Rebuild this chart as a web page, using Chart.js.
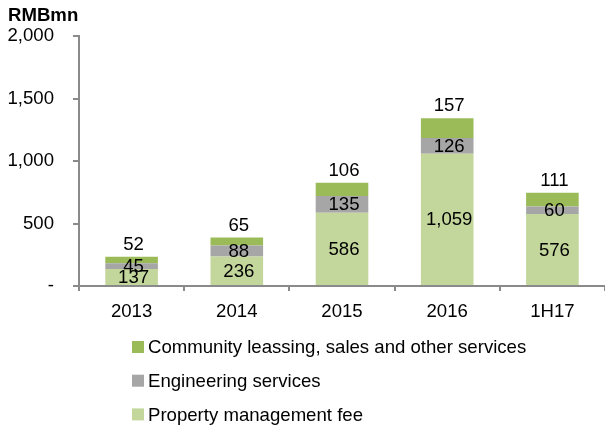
<!DOCTYPE html>
<html>
<head>
<meta charset="utf-8">
<script src="https://cdn.jsdelivr.net/npm/chart.js@4/dist/chart.umd.min.js"></script>
<style>
  html, body { margin: 0; padding: 0; background: #fff; }
  #wrap { width: 605px; height: 427px; position: relative; }
</style>
</head>
<body>
<div id="wrap"><canvas id="myChart" width="605" height="427"></canvas></div>
<script>
const labels = ['2013', '2014', '2015', '2016', '1H17'];

const propertyFee = [137, 236, 586, 1059, 576];
const engineering = [45, 88, 135, 126, 60];
const community = [52, 65, 106, 157, 111];

const yTicks = [0, 500, 1000, 1500, 2000];

const FONT = '"Liberation Sans", Arial, sans-serif';
const SIZE = 18.6;
const AXIS = '#8a8a8a';

const fmt = v => v === 0 ? '-' : v.toLocaleString('en-US');

// value labels: centred in the lower segments, above the top one
const valueLabels = {
  id: 'valueLabels',
  afterDatasetsDraw(chart) {
    const ctx = chart.ctx;
    ctx.save();
    ctx.font = SIZE + 'px ' + FONT;
    ctx.fillStyle = '#000';
    ctx.textAlign = 'center';
    ctx.textBaseline = 'middle';
    const last = chart.data.datasets.length - 1;
    chart.data.datasets.forEach((ds, i) => {
      chart.getDatasetMeta(i).data.forEach((bar, j) => {
        const y = i === last ? bar.y - 12 : (bar.y + bar.base) / 2 + 1;
        ctx.fillText(fmt(ds.data[j]), bar.x + 2, y);
      });
    });
    ctx.restore();
  }
};

// unit title and a one-column legend under the axis
const extras = {
  id: 'extras',
  afterDraw(chart) {
    const ctx = chart.ctx;
    ctx.save();
    ctx.fillStyle = '#000';
    ctx.textBaseline = 'middle';
    ctx.font = 'bold ' + SIZE + 'px ' + FONT;
    ctx.fillText('RMBmn', 8, 16);

    ctx.font = SIZE + 'px ' + FONT;
    const items = chart.data.datasets.slice().reverse();
    items.forEach((ds, k) => {
      const cy = 347 + k * 33.7;
      ctx.fillStyle = ds.backgroundColor;
      ctx.fillRect(132, cy - 6, 12, 12);
      ctx.fillStyle = '#000';
      ctx.fillText(ds.label, 148, cy + 1);
    });
    ctx.restore();
  }
};

const data = {
  labels: labels,
  datasets: [{
    label: 'Property management fee',
    data: propertyFee,
    backgroundColor: '#c3d69b'
  }, {
    label: 'Engineering services',
    data: engineering,
    backgroundColor: '#a6a6a6'
  }, {
    label: 'Community leassing, sales and other services',
    data: community,
    backgroundColor: '#9bbb59'
  }]
};

const config = {
  type: 'bar',
  data: data,
  options: {
    responsive: false,
    animation: false,
    barPercentage: 0.5,
    categoryPercentage: 1.0,
    layout: { padding: { top: 36, right: 0, bottom: 0, left: 0 } },
    plugins: {
      legend: { display: false },
      tooltip: { enabled: false }
    },
    scales: {
      x: {
        stacked: true,
        border: { color: AXIS, width: 2 },
        grid: { drawOnChartArea: false, drawTicks: true, tickLength: 5, color: AXIS, lineWidth: 2 },
        ticks: { color: '#000', font: { size: SIZE, family: FONT }, padding: 10 },
        afterFit(scale) { scale.height = 141; }
      },
      y: {
        stacked: true,
        min: 0,
        max: 2000,
        afterBuildTicks(scale) { scale.ticks = yTicks.map(v => ({ value: v })); },
        border: { color: AXIS, width: 2 },
        grid: { drawOnChartArea: false, drawTicks: true, tickLength: 6, color: AXIS, lineWidth: 2 },
        ticks: {
          color: '#000',
          font: { size: SIZE, family: FONT },
          padding: 19,
          callback: v => fmt(v)
        },
        afterFit(scale) { scale.width = 79; }
      }
    }
  },
  plugins: [valueLabels, extras]
};

const myChart = new Chart(document.getElementById('myChart'), config);
</script>
</body>
</html>
